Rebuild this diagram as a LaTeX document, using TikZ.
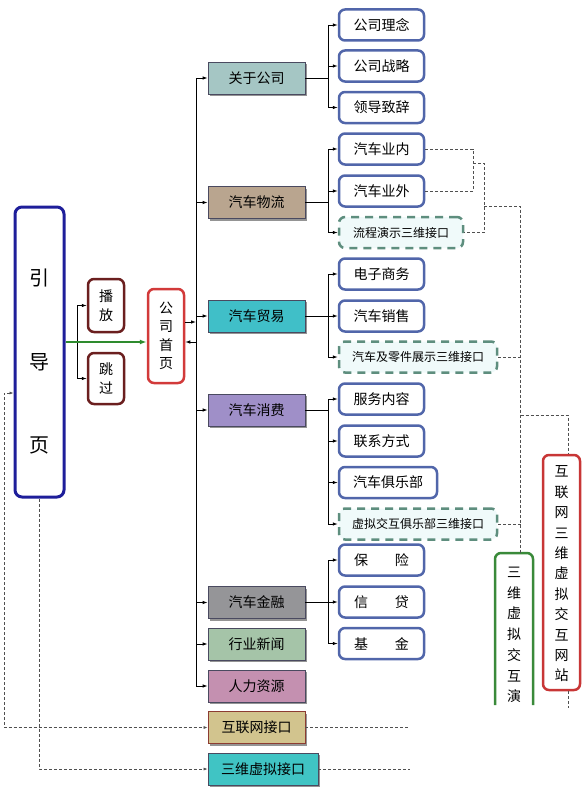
\documentclass[tikz,border=0pt]{standalone}
\usepackage{fontspec}
\setmainfont{Noto Sans CJK SC}
\usetikzlibrary{arrows.meta,shadows,calc}

\definecolor{guideblue}{HTML}{1E1E9A}
\definecolor{playred}{HTML}{6B1F1F}
\definecolor{homered}{HTML}{D23A3A}
\definecolor{subblue}{HTML}{5166AA}
\definecolor{ifacegreen}{HTML}{5E8E7E}
\definecolor{ifacefill}{HTML}{F0FAFA}
\definecolor{catline}{HTML}{4A4A60}
\definecolor{dashgray}{HTML}{505050}
\definecolor{sitered}{HTML}{C83636}
\definecolor{demogreen}{HTML}{3A8A3A}
\definecolor{homegreen}{HTML}{2E8B2E}

\tikzset{
	guidebox/.style={draw=guideblue, line width=3pt, rounded corners=7pt, fill=white, minimum width=49pt, minimum height=290pt},
	guidetext/.style={align=center, font={\fontsize{20}{83.5}\selectfont}},
	playbox/.style={draw=playred, line width=2.5pt, rounded corners=6pt, fill=white, minimum width=36pt, align=center, font={\fontsize{14}{19}\selectfont}},
	homebox/.style={draw=homered, line width=2.5pt, rounded corners=6pt, fill=white, minimum width=36pt, minimum height=94pt, align=center, font={\fontsize{14}{18.5}\selectfont}},
	catbox/.style={draw=catline, line width=0.8pt, minimum width=97pt, minimum height=32pt, font={\fontsize{14}{16}\selectfont}, drop shadow={shadow xshift=2pt, shadow yshift=-2pt, opacity=0.6, fill=black!70}},
	subbox/.style={draw=subblue, line width=2.5pt, rounded corners=6pt, fill=white, minimum width=85pt, minimum height=31pt, font={\fontsize{14}{16}\selectfont}},
	ifacebox/.style={draw=ifacegreen, line width=2.5pt, dash pattern=on 8pt off 6pt, rounded corners=6pt, fill=ifacefill, minimum height=31pt, font={\fontsize{12}{14}\selectfont}},
	vtext/.style={align=center, font={\fontsize{14}{20.4}\selectfont}},
	arrowline/.style={line width=0.8pt, -{Latex[length=5pt,width=3.5pt]}},
	barline/.style={line width=0.8pt},
	dashline/.style={draw=dashgray, line width=0.7pt, dash pattern=on 3pt off 2pt},
}

\begin{document}
\begin{tikzpicture}[x=1pt, y=-1pt]
	%%%%% START %%%%%
	\useasboundingbox (0,0) rectangle (586,792);
	
	% entry page and home page
	\node[guidebox] (yindao) at (39.5,352) {};
	\node[guidetext] (yindaotext) at (39.5,362) {引\\导\\页};
	\node[playbox, minimum height=53pt] (bofang) at (106,305.5) {播\\放};
	\node[playbox, minimum height=51pt] (tiaoguo) at (106,378.5) {跳\\过};
	\node[homebox] (shouye) at (166,336) {公\\司\\首\\页};
	
	\coordinate (fork) at (77,342);
	\draw[barline] (yindao.east |- fork) -- (fork);
	\draw[arrowline] (fork) |- (bofang.west);
	\draw[arrowline] (fork) |- (tiaoguo.west);
	\draw[line width=2pt, draw=homegreen, -{Latex[length=7pt,width=5pt]}] (yindao.east |- fork) -- ([yshift=-6pt]shouye.west);
	
	% main sections
	\node[catbox, fill={rgb,255:red,165;green,198;blue,196}] (guanyu) at (256.5,78) {关于公司};
	\node[catbox, fill={rgb,255:red,185;green,165;blue,143}] (wuliu) at (256.5,202.5) {汽车物流};
	\node[catbox, fill={rgb,255:red,64;green,191;blue,200}] (maoyi) at (256.5,316) {汽车贸易};
	\node[catbox, fill={rgb,255:red,159;green,143;blue,200}] (xiaofei) at (256.5,410) {汽车消费};
	\node[catbox, fill={rgb,255:red,149;green,149;blue,152}] (jinrong) at (256.5,602.5) {汽车金融};
	\node[catbox, fill={rgb,255:red,165;green,196;blue,168}] (xinwen) at (256.5,644) {行业新闻};
	\node[catbox, fill={rgb,255:red,196;green,144;blue,176}] (renli) at (256.5,686) {人力资源};
	\node[catbox, fill={rgb,255:red,210;green,196;blue,142}, draw={rgb,255:red,140;green,60;blue,50}] (hulianwang) at (256.5,727.5) {互联网接口};
	\node[catbox, fill={rgb,255:red,64;green,196;blue,196}, minimum width=110pt] (sanwei) at (263,769) {三维虚拟接口};
	
	\coordinate (trunk) at (196,0);
	\draw[barline] (trunk |- guanyu.west) -- (trunk |- renli.west);
	\foreach \c in {guanyu,wuliu,maoyi,xiaofei,jinrong,xinwen,renli}
		\draw[arrowline] (trunk |- \c.west) -- (\c.west);
	\draw[arrowline] ([yshift=14pt]shouye.east) -- ([yshift=14pt]shouye.east -| trunk);
	\draw[arrowline] ([yshift=-6pt]shouye.east -| trunk) -- ([yshift=-6pt]shouye.east);
	
	% sub pages
	\node[subbox] (linian) at (381.5,25) {公司理念};
	\node[subbox] (zhanlue) at (381.5,66) {公司战略};
	\node[subbox] (zhici) at (381.5,107.5) {领导致辞};
	\node[subbox] (yenei) at (381.5,149) {汽车业内};
	\node[subbox] (yewai) at (381.5,191) {汽车业外};
	\node[ifacebox, minimum width=124pt] (liucheng) at (401,232.5) {流程演示三维接口};
	\node[subbox] (dianzi) at (381.5,274) {电子商务};
	\node[subbox] (xiaoshou) at (381.5,316) {汽车销售};
	\node[ifacebox, minimum width=158pt] (lingjian) at (418,357) {汽车及零件展示三维接口};
	\node[subbox] (fuwu) at (381.5,399) {服务内容};
	\node[subbox] (lianxi) at (381.5,441) {联系方式};
	\node[subbox, minimum width=98pt] (julebu) at (388,482.5) {汽车俱乐部};
	\node[ifacebox, minimum width=158pt] (xuni) at (418,524) {虚拟交互俱乐部三维接口};
	\node[subbox] (baoxian) at (381.5,560) {\makebox[55pt]{保\hfill 险}};
	\node[subbox] (xindai) at (381.5,602) {\makebox[55pt]{信\hfill 贷}};
	\node[subbox] (jijin) at (381.5,643.5) {\makebox[55pt]{基\hfill 金}};
	
	\coordinate (bus) at (328,0);
	\draw[barline] (guanyu.east) -- (bus |- guanyu.east);
	\draw[barline] (bus |- linian.west) -- (bus |- zhici.west);
	\foreach \s in {linian,zhanlue,zhici}
		\draw[arrowline] (bus |- \s.west) -- (\s.west);
	\draw[barline] (wuliu.east) -- (bus |- wuliu.east);
	\draw[barline] (bus |- yenei.west) -- (bus |- liucheng.west);
	\foreach \s in {yenei,yewai,liucheng}
		\draw[arrowline] (bus |- \s.west) -- (\s.west);
	\draw[barline] (maoyi.east) -- (bus |- maoyi.east);
	\draw[barline] (bus |- dianzi.west) -- (bus |- lingjian.west);
	\foreach \s in {dianzi,xiaoshou,lingjian}
		\draw[arrowline] (bus |- \s.west) -- (\s.west);
	\draw[barline] (xiaofei.east) -- (bus |- xiaofei.east);
	\draw[barline] (bus |- fuwu.west) -- (bus |- xuni.west);
	\foreach \s in {fuwu,lianxi,julebu,xuni}
		\draw[arrowline] (bus |- \s.west) -- (\s.west);
	\draw[barline] (jinrong.east) -- (bus |- jinrong.east);
	\draw[barline] (bus |- baoxian.west) -- (bus |- jijin.west);
	\foreach \s in {baoxian,xindai,jijin}
		\draw[arrowline] (bus |- \s.west) -- (\s.west);
	
	% 3D sites on the right
	\node[draw=sitered, line width=2.5pt, rounded corners=6pt, fill=white, minimum width=37pt, minimum height=235pt] (wangzhan) at (561.5,572.5) {};
	\node[vtext] (wangzhantext) at (561.5,574) {互\\联\\网\\三\\维\\虚\\拟\\交\\互\\网\\站};
	\draw[draw=demogreen, line width=2.5pt, rounded corners=6pt] (495,705) -- (495,553) -- (533,553) -- (533,705);
	\node[vtext, font={\fontsize{14}{20.7}\selectfont}] (yanshi) at (514,635) {三\\维\\虚\\拟\\交\\互\\演};
	
	% dashed links
	\coordinate (ja) at (473,163);
	\coordinate (jb) at (484,206);
	\coordinate (jc) at (520.5,415);
	\coordinate (yanshitop) at (520.5,553);
	\draw[dashline] (yenei.east) -- (yenei.east -| ja) |- (yewai.east);
	\draw[dashline] (ja) -- (ja -| jb) |- (liucheng.east);
	\draw[dashline] (jb) -| (yanshitop);
	\draw[dashline] (lingjian.east) -- (lingjian.east -| yanshitop);
	\draw[dashline] (xuni.east) -- (xuni.east -| yanshitop);
	\draw[dashline] (jc) -| ([xshift=6.5pt]wangzhan.north);
	\draw[dashline] ([xshift=6.5pt]wangzhan.south) -- ++(0,17);
	
	\coordinate (hlend) at (408,727.5);
	\coordinate (swend) at (410,769);
	\draw[dashline] (hulianwang.east) -- (hlend);
	\draw[dashline] (sanwei.east) -- (swend);
	
	\coordinate (lt) at (4,393);
	\draw[dashline, {Latex[length=4pt,width=3pt]}-{Latex[length=4pt,width=3pt]}] (yindao.west |- lt) -- (lt) |- (hulianwang.west);
	\draw[dashline, -{Latex[length=4pt,width=3pt]}] (yindao.south) |- (sanwei.west);
	
	%%%%% END %%%%%
\end{tikzpicture}
\end{document}
